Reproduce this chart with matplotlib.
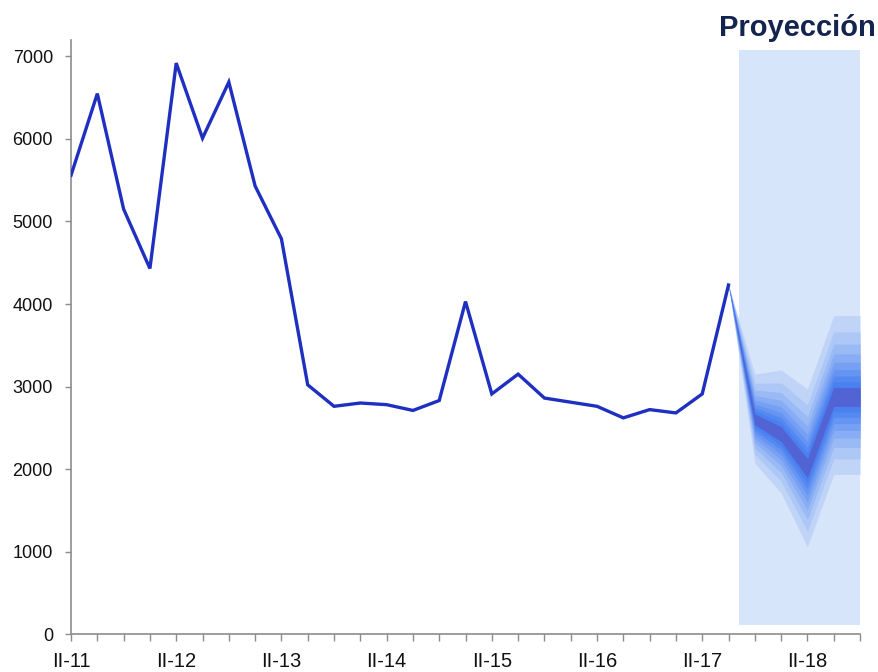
import matplotlib
matplotlib.use("Agg")
import matplotlib.pyplot as plt
import numpy as np

# ---------------- data ----------------
hist_values = [5560, 6550, 5150, 4430, 6920, 6010, 6690, 5430, 4790, 3020,
               2760, 2800, 2780, 2710, 2830, 4030, 2910, 3150, 2860, 2810,
               2760, 2620, 2720, 2680, 2910, 4230]
hist_x = list(range(len(hist_values)))

fan_x = [25, 26, 27, 28, 29, 30]
fan_center = [4230, 2600, 2420, 2010, 2870, 2870]
fan_hi = [4230, 3150, 3200, 2970, 3860, 3860]
fan_lo = [4230, 2070, 1710, 1055, 1935, 1935]
# band edge positions as share of outer spread
band_fracs = [0.12, 0.19, 0.26, 0.34, 0.43, 0.53, 0.65, 0.80, 1.0]
band_colors = ["#5263d4", "#4a80f0", "#5489f1", "#6594f2", "#76a0f3",
               "#88adf4", "#9abaf5", "#adc7f6", "#c0d4f8"]

proj_x = [25.4, 30.0]
proj_low, proj_high = 110, 7075

tick_pos = [0, 4, 8, 12, 16, 20, 24, 28]
tick_labels = ["II-11", "II-12", "II-13", "II-14", "II-15", "II-16", "II-17", "II-18"]
yticks = [0, 1000, 2000, 3000, 4000, 5000, 6000, 7000]

# ---------------- plot ----------------
plt.rcParams['font.family'] = ['Liberation Sans', 'DejaVu Sans']
fig = plt.figure(figsize=(8.79, 6.72), dpi=100)
ax = fig.add_axes([0.0808, 0.0565, 0.8976, 0.884])

ax.fill_between(proj_x, proj_low, proj_high, color="#d7e5fa", lw=0, zorder=1)

fc = np.array(fan_center, float)
fh = np.array(fan_hi, float)
fl = np.array(fan_lo, float)
for frac, col in reversed(list(zip(band_fracs, band_colors))):
    up = fc + (fh - fc) * frac
    dn = fc - (fc - fl) * frac
    ax.fill_between(fan_x, dn, up, color=col, lw=0, zorder=2)

ax.plot(hist_x, hist_values, color="#1f2fc0", lw=2.4, zorder=3,
        solid_joinstyle="miter")

ax.set_xlim(0, 30)
ax.set_ylim(0, 7200)
ax.set_yticks(yticks)
ax.set_yticklabels([str(v) for v in yticks])
ax.set_xticks(range(0, 31), minor=True)
ax.set_xticks(tick_pos)
ax.set_xticklabels(tick_labels)

for s in ["top", "right"]:
    ax.spines[s].set_visible(False)
for s in ["left", "bottom"]:
    ax.spines[s].set_color("#8c8c8c")
    ax.spines[s].set_linewidth(1.2)

ax.tick_params(axis="y", direction="out", length=4, width=1, color="#8c8c8c",
               labelsize=13, pad=9, labelcolor="#111111")
ax.tick_params(axis="x", which="both", direction="out", length=5, width=1,
               color="#8c8c8c")
ax.tick_params(axis="x", which="major", labelsize=14.5, pad=8, labelcolor="#111111")

fig.text(0.907, 1 - 36 / 672, "Proyección", ha="center", va="baseline",
         fontsize=21, fontweight="bold", color="#13244f")

fig.savefig("out.png", dpi=100)
